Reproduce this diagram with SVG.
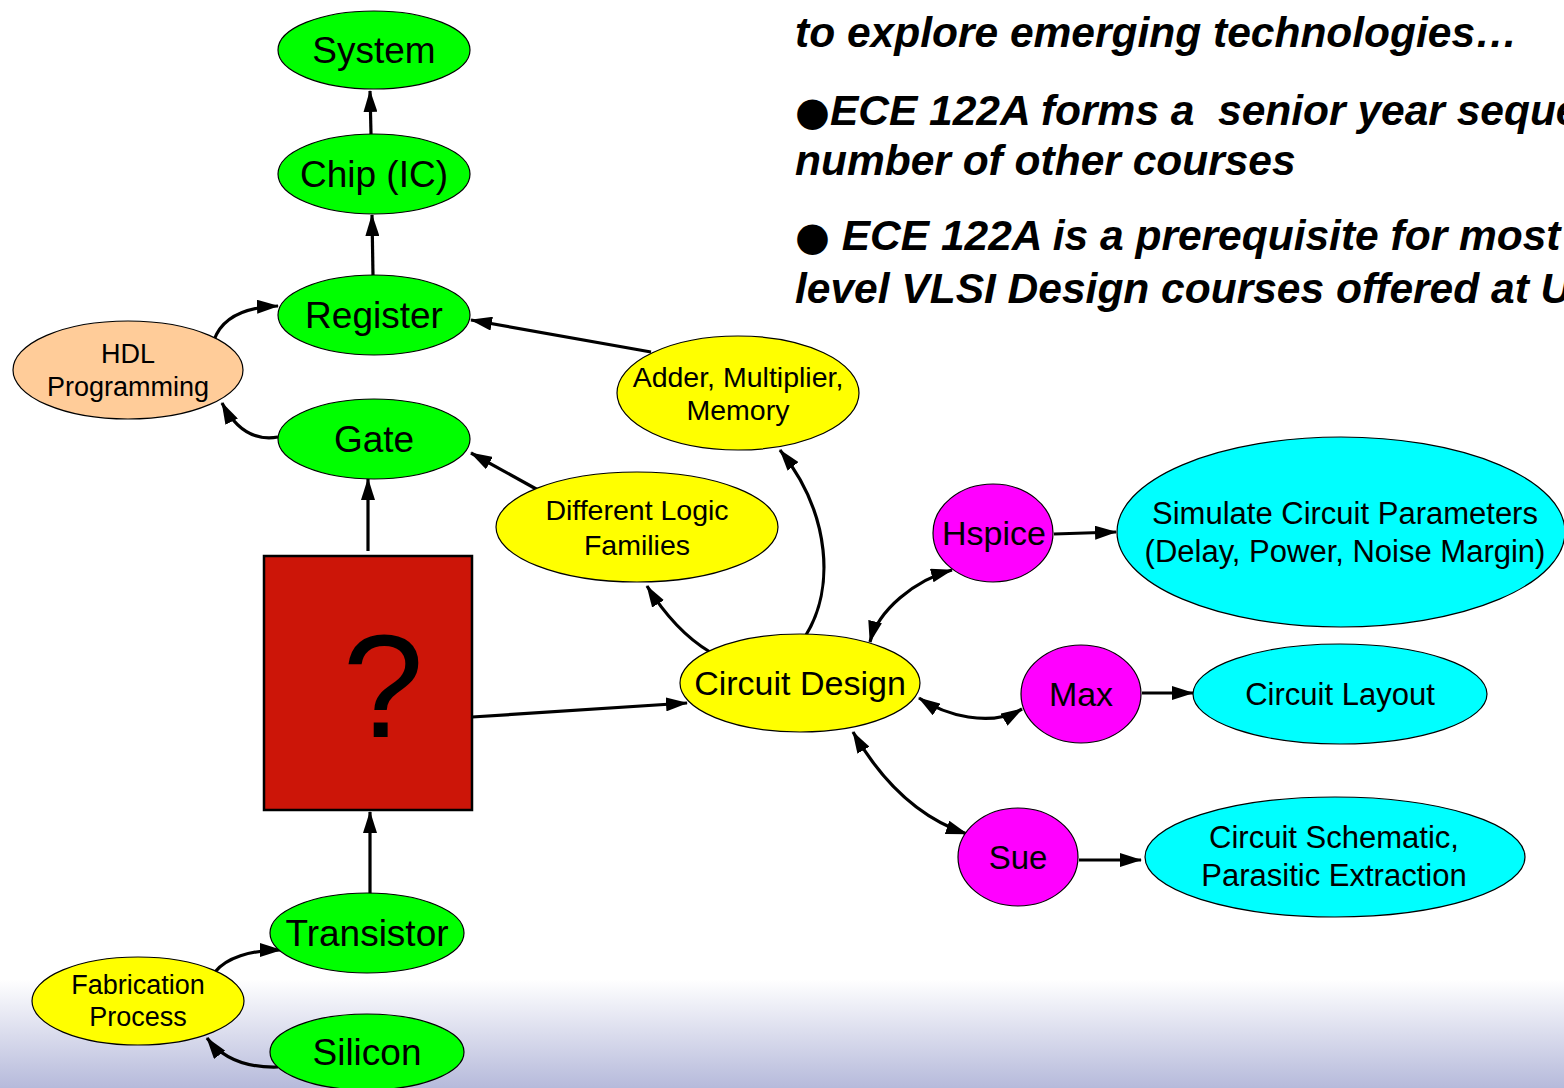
<svg xmlns="http://www.w3.org/2000/svg" width="1564" height="1088" viewBox="0 0 1564 1088">
<defs>
<linearGradient id="bg" x1="0" y1="0" x2="0" y2="1">
<stop offset="0" stop-color="#ffffff"/>
<stop offset="0.9" stop-color="#ffffff"/>
<stop offset="1" stop-color="#b6badb"/>
</linearGradient>
<marker id="ah" viewBox="0 0 22 14" refX="21" refY="7" markerWidth="22" markerHeight="14" markerUnits="userSpaceOnUse" orient="auto-start-reverse">
<path d="M0,0 L22,7 L0,14 z" fill="#000"/>
</marker>
</defs>
<style>
.n{stroke:#000;stroke-width:1.2}
.g{fill:#00ff00}.y{fill:#ffff00}.m{fill:#ff00ff}.c{fill:#00ffff}.p{fill:#ffcc99}
text{font-family:"Liberation Sans",Arial,sans-serif;fill:#000;text-anchor:middle}
.t37{font-size:37px}.t34{font-size:34px}.t27{font-size:27px}.t28{font-size:28.5px}.t31{font-size:31px}.t33{font-size:33px}
.hdr{font-size:42.5px;font-weight:bold;font-style:italic;text-anchor:start;white-space:pre}
.bul{font-family:"DejaVu Sans",sans-serif;font-style:normal;font-size:40px}
.e{fill:none;stroke:#000;stroke-width:3.2;marker-end:url(#ah)}
.d{marker-start:url(#ah)}
</style>
<rect x="0" y="0" width="1564" height="1088" fill="url(#bg)"/>

<g id="header-text">
<text class="hdr" x="795" y="47">to explore emerging technologies…</text>
<text class="hdr" x="795" y="125" xml:space="preserve"><tspan class="bul">●</tspan>ECE 122A forms a  senior year seque</text>
<text class="hdr" x="795" y="175">number of other courses</text>
<text class="hdr" x="795" y="250" xml:space="preserve"><tspan class="bul">●</tspan> ECE 122A is a prerequisite for most</text>
<text class="hdr" x="795" y="303">level VLSI Design courses offered at U</text>
</g>

<g id="connectors">
<path class="e" d="M371,134 L370,91"/>
<path class="e" d="M373,276 L372,215"/>
<path class="e" d="M651,352 L471,320"/>
<path class="e" d="M214,340 C222,318 245,307 278,306"/>
<path class="e" d="M278,437 C255,441 236,430 222,403"/>
<path class="e" d="M368,551 L368,479"/>
<path class="e" d="M370,895 L370,812"/>
<path class="e" d="M215,972 C226,958 250,950 281,950"/>
<path class="e" d="M278,1067 C245,1068 222,1058 207,1038"/>
<path class="e" d="M472,717 L687,703"/>
<path class="e" d="M710,652 C685,637 665,615 647,586"/>
<path class="e" d="M806,635 C834,590 832,515 780,450"/>
<path class="e" d="M538,490 L471,453"/>
<path class="e d" d="M870,642 C878,610 915,580 952,570"/>
<path class="e d" d="M919,698 C945,715 990,728 1022,709"/>
<path class="e d" d="M853,732 C875,770 910,815 967,834"/>
<path class="e" d="M1054,534 L1116,532"/>
<path class="e" d="M1142,693 L1193,693"/>
<path class="e" d="M1079,860 L1141,860"/>
</g>

<g id="system"><ellipse class="n g" cx="374" cy="50" rx="96" ry="39"/><text class="t37" x="374" y="63">System</text></g>
<g id="chip"><ellipse class="n g" cx="374" cy="174" rx="96" ry="40"/><text class="t37" x="374" y="187">Chip (IC)</text></g>
<g id="register"><ellipse class="n g" cx="374" cy="315" rx="96" ry="40"/><text class="t37" x="374" y="328">Register</text></g>
<g id="hdl"><ellipse class="n p" cx="128" cy="370" rx="115" ry="49"/><text class="t27" x="128" y="363">HDL</text><text class="t27" x="128" y="396">Programming</text></g>
<g id="gate"><ellipse class="n g" cx="374" cy="439" rx="96" ry="40"/><text class="t37" x="374" y="452">Gate</text></g>
<g id="unknown"><rect x="264" y="556" width="208" height="254" fill="#cc1508" stroke="#000" stroke-width="2.5"/><text x="383" y="737" style="font-size:146px">?</text></g>
<g id="transistor"><ellipse class="n g" cx="367" cy="933" rx="97" ry="40"/><text class="t37" x="367" y="946">Transistor</text></g>
<g id="fabrication"><ellipse class="n y" cx="138" cy="1001" rx="106" ry="44"/><text class="t27" x="138" y="994">Fabrication</text><text class="t27" x="138" y="1026">Process</text></g>
<g id="silicon"><ellipse class="n g" cx="367" cy="1052" rx="97" ry="38"/><text class="t37" x="367" y="1065">Silicon</text></g>
<g id="adder"><ellipse class="n y" cx="738" cy="393" rx="121" ry="57"/><text class="t28" x="738" y="387">Adder, Multiplier,</text><text class="t28" x="738" y="420">Memory</text></g>
<g id="logic"><ellipse class="n y" cx="637" cy="527" rx="141" ry="55"/><text class="t28" x="637" y="520">Different Logic</text><text class="t28" x="637" y="555">Families</text></g>
<g id="circuit-design"><ellipse class="n y" cx="800" cy="683" rx="120" ry="49"/><text class="t34" x="800" y="695">Circuit Design</text></g>
<g id="hspice"><ellipse class="n m" cx="993" cy="533" rx="60" ry="49"/><text class="t34" x="994" y="545">Hspice</text></g>
<g id="max"><ellipse class="n m" cx="1081" cy="694" rx="60" ry="49"/><text class="t34" x="1081" y="706">Max</text></g>
<g id="sue"><ellipse class="n m" cx="1018" cy="857" rx="60" ry="49"/><text class="t33" x="1018" y="869">Sue</text></g>
<g id="simulate"><ellipse class="n c" cx="1341" cy="532" rx="224" ry="95"/><text class="t31" x="1345" y="524">Simulate Circuit Parameters</text><text class="t31" x="1345" y="562">(Delay, Power, Noise Margin)</text></g>
<g id="layout"><ellipse class="n c" cx="1340" cy="694" rx="147" ry="50"/><text class="t31" x="1340" y="705">Circuit Layout</text></g>
<g id="schematic"><ellipse class="n c" cx="1335" cy="857" rx="190" ry="60"/><text class="t31" x="1334" y="848">Circuit Schematic,</text><text class="t31" x="1334" y="886">Parasitic Extraction</text></g>
</svg>
